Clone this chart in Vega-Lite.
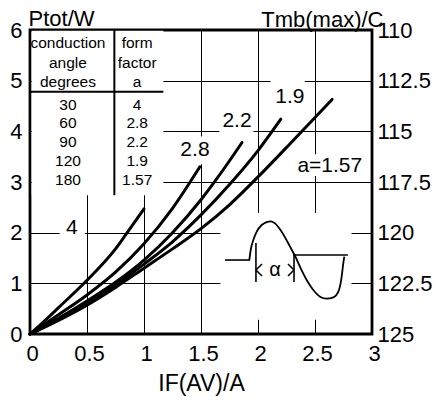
{
  "$schema": "https://vega.github.io/schema/vega-lite/v6.json",
  "width": 342,
  "height": 304,
  "autosize": {"type": "none"},
  "padding": {"left": 30, "top": 30, "right": 66, "bottom": 69},
  "background": "white",
  "config": {
    "font": "Liberation Sans",
    "view": {"stroke": "black", "strokeWidth": 2.8},
    "axis": {"labelColor": "black", "titleColor": "black", "labelFontSize": 22, "titleFontSize": 22, "titleFontWeight": "normal", "ticks": false, "domain": false, "gridColor": "black", "gridOpacity": 1, "gridWidth": 1, "labelFlush": false}
  },
  "datasets": {
    "curves": [
      {"a": "4", "x": 0, "y": 0}, {"a": "4", "x": 0.1, "y": 0.2}, {"a": "4", "x": 0.25, "y": 0.52}, {"a": "4", "x": 0.5, "y": 1.06}, {"a": "4", "x": 0.75, "y": 1.68}, {"a": "4", "x": 0.84, "y": 1.96}, {"a": "4", "x": 1.0, "y": 2.47},
      {"a": "2.8", "x": 0, "y": 0}, {"a": "2.8", "x": 0.25, "y": 0.38}, {"a": "2.8", "x": 0.5, "y": 0.77}, {"a": "2.8", "x": 0.75, "y": 1.22}, {"a": "2.8", "x": 1.0, "y": 1.78}, {"a": "2.8", "x": 1.25, "y": 2.48}, {"a": "2.8", "x": 1.49, "y": 3.3},
      {"a": "2.2", "x": 0, "y": 0}, {"a": "2.2", "x": 0.25, "y": 0.31}, {"a": "2.2", "x": 0.5, "y": 0.65}, {"a": "2.2", "x": 0.75, "y": 1.02}, {"a": "2.2", "x": 1.0, "y": 1.46}, {"a": "2.2", "x": 1.25, "y": 2.0}, {"a": "2.2", "x": 1.5, "y": 2.65}, {"a": "2.2", "x": 1.65, "y": 3.1}, {"a": "2.2", "x": 1.86, "y": 3.78},
      {"a": "1.9", "x": 0, "y": 0}, {"a": "1.9", "x": 0.25, "y": 0.29}, {"a": "1.9", "x": 0.5, "y": 0.61}, {"a": "1.9", "x": 0.75, "y": 0.97}, {"a": "1.9", "x": 1.0, "y": 1.38}, {"a": "1.9", "x": 1.25, "y": 1.82}, {"a": "1.9", "x": 1.5, "y": 2.35}, {"a": "1.9", "x": 1.75, "y": 2.95}, {"a": "1.9", "x": 2.0, "y": 3.62}, {"a": "1.9", "x": 2.2, "y": 4.24},
      {"a": "1.57", "x": 0, "y": 0}, {"a": "1.57", "x": 0.25, "y": 0.27}, {"a": "1.57", "x": 0.5, "y": 0.57}, {"a": "1.57", "x": 0.75, "y": 0.92}, {"a": "1.57", "x": 1.0, "y": 1.3}, {"a": "1.57", "x": 1.25, "y": 1.68}, {"a": "1.57", "x": 1.5, "y": 2.08}, {"a": "1.57", "x": 1.75, "y": 2.55}, {"a": "1.57", "x": 2.0, "y": 3.1}, {"a": "1.57", "x": 2.3, "y": 3.8}, {"a": "1.57", "x": 2.65, "y": 4.63}
    ],
    "masks": [
      {"x": 0.015, "x2": 1.17, "y": 2.74, "y2": 5.985},
      {"x": 0.26, "x2": 0.48, "y": 1.9, "y2": 2.3},
      {"x": 1.28, "x2": 1.6, "y": 3.35, "y2": 3.9},
      {"x": 1.66, "x2": 1.96, "y": 3.85, "y2": 4.37},
      {"x": 2.11, "x2": 2.41, "y": 4.45, "y2": 5.06},
      {"x": 2.25, "x2": 2.98, "y": 3.12, "y2": 3.55},
      {"x": 1.67, "x2": 2.82, "y": 0.28, "y2": 2.39}
    ],
    "segments": [
      {"part": "table", "x": 0, "y": 4.78, "x2": 1.17, "y2": 4.78},
      {"part": "table", "x": 0.74, "y": 2.74, "x2": 0.74, "y2": 6},
      {"part": "inset", "x": 1.711, "y": 1.46, "x2": 1.93, "y2": 1.46},
      {"part": "inset", "x": 2.307, "y": 1.56, "x2": 2.789, "y2": 1.56},
      {"part": "inset", "x": 1.982, "y": 1.796, "x2": 1.982, "y2": 1.026},
      {"part": "inset", "x": 2.316, "y": 1.56, "x2": 2.316, "y2": 1.026},
      {"part": "inset", "x": 2.035, "y": 1.381, "x2": 1.982, "y2": 1.263},
      {"part": "inset", "x": 1.982, "y": 1.263, "x2": 2.035, "y2": 1.145},
      {"part": "inset", "x": 2.263, "y": 1.381, "x2": 2.316, "y2": 1.263},
      {"part": "inset", "x": 2.316, "y": 1.263, "x2": 2.263, "y2": 1.145}
    ],
    "wave": [
      {"x": 1.924, "y": 1.46}, {"x": 1.936, "y": 1.658}, {"x": 1.959, "y": 1.855}, {"x": 1.989, "y": 2.02}, {"x": 2.032, "y": 2.151}, {"x": 2.076, "y": 2.21}, {"x": 2.111, "y": 2.224}, {"x": 2.149, "y": 2.184}, {"x": 2.193, "y": 2.066}, {"x": 2.237, "y": 1.908}, {"x": 2.281, "y": 1.724}, {"x": 2.325, "y": 1.54}, {"x": 2.368, "y": 1.329}, {"x": 2.427, "y": 1.066}, {"x": 2.485, "y": 0.868}, {"x": 2.544, "y": 0.736}, {"x": 2.602, "y": 0.697}, {"x": 2.661, "y": 0.724}, {"x": 2.705, "y": 0.836}, {"x": 2.734, "y": 1.132}, {"x": 2.748, "y": 1.395}, {"x": 2.757, "y": 1.527}
    ],
    "texts": [
      {"g": "table", "x": 0.333, "y": 5.74, "text": "conduction"},
      {"g": "table", "x": 0.333, "y": 5.35, "text": "angle"},
      {"g": "table", "x": 0.333, "y": 4.97, "text": "degrees"},
      {"g": "table", "x": 0.94, "y": 5.74, "text": "form"},
      {"g": "table", "x": 0.94, "y": 5.35, "text": "factor"},
      {"g": "table", "x": 0.94, "y": 4.97, "text": "a"},
      {"g": "table", "x": 0.333, "y": 4.52, "text": "30"},
      {"g": "table", "x": 0.333, "y": 4.16, "text": "60"},
      {"g": "table", "x": 0.333, "y": 3.79, "text": "90"},
      {"g": "table", "x": 0.333, "y": 3.41, "text": "120"},
      {"g": "table", "x": 0.333, "y": 3.04, "text": "180"},
      {"g": "table", "x": 0.94, "y": 4.52, "text": "4"},
      {"g": "table", "x": 0.94, "y": 4.16, "text": "2.8"},
      {"g": "table", "x": 0.94, "y": 3.79, "text": "2.2"},
      {"g": "table", "x": 0.94, "y": 3.41, "text": "1.9"},
      {"g": "table", "x": 0.94, "y": 3.04, "text": "1.57"},
      {"g": "curve", "x": 0.368, "y": 2.09, "text": "4"},
      {"g": "curve", "x": 1.447, "y": 3.63, "text": "2.8"},
      {"g": "curve", "x": 1.816, "y": 4.2, "text": "2.2"},
      {"g": "curve", "x": 2.28, "y": 4.68, "text": "1.9"},
      {"g": "curve", "x": 2.63, "y": 3.32, "text": "a=1.57"},
      {"g": "alpha", "x": 2.149, "y": 1.263, "text": "α"}
    ]
  },
  "layer": [
    {
      "encoding": {
        "x": {"field": "x", "type": "quantitative", "scale": {"domain": [0, 3], "nice": false, "zero": false},
              "axis": {"values": [0, 0.5, 1, 1.5, 2, 2.5, 3], "format": ".1~f", "grid": true, "labelPadding": 9, "labelOffset": 2, "title": "IF(AV)/A", "titleFontSize": 23, "titleY": 56, "titleBaseline": "alphabetic"}},
        "y": {"field": "y", "type": "quantitative", "scale": {"domain": [0, 6], "nice": false},
              "axis": {"values": [0, 1, 2, 3, 4, 5, 6], "format": ".1~f", "grid": true, "labelPadding": 8, "title": "Ptot/W", "titleAngle": 0, "titleAlign": "left", "titleX": -2, "titleY": -5, "titleBaseline": "alphabetic"}}
      },
      "layer": [
        {"data": {"name": "masks"}, "mark": {"type": "rect", "color": "white"},
         "encoding": {"x2": {"field": "x2"}, "y2": {"field": "y2"}}},
        {"data": {"name": "segments"}, "transform": [{"filter": "datum.part === 'table'"}],
         "mark": {"type": "rule", "color": "black", "strokeWidth": 2},
         "encoding": {"x2": {"field": "x2"}, "y2": {"field": "y2"}}},
        {"data": {"name": "segments"}, "transform": [{"filter": "datum.part === 'inset'"}],
         "mark": {"type": "rule", "color": "black", "strokeWidth": 1.6},
         "encoding": {"x2": {"field": "x2"}, "y2": {"field": "y2"}}},
        {"data": {"name": "wave"}, "mark": {"type": "line", "color": "black", "strokeWidth": 1.8, "interpolate": "monotone"}, "encoding": {}},
        {"data": {"name": "curves"}, "mark": {"type": "line", "color": "black", "strokeWidth": 3, "interpolate": "monotone", "strokeCap": "round"},
         "encoding": {"detail": {"field": "a"}}},
        {"data": {"name": "texts"}, "transform": [{"filter": "datum.g === 'table'"}],
         "mark": {"type": "text", "fontSize": 15.5, "color": "black", "align": "center", "baseline": "middle"},
         "encoding": {"text": {"field": "text"}}},
        {"data": {"name": "texts"}, "transform": [{"filter": "datum.g === 'curve'"}],
         "mark": {"type": "text", "fontSize": 21, "color": "black", "align": "center", "baseline": "middle"},
         "encoding": {"text": {"field": "text"}}},
        {"data": {"name": "texts"}, "transform": [{"filter": "datum.g === 'alpha'"}],
         "mark": {"type": "text", "fontSize": 20, "color": "black", "align": "center", "baseline": "middle"},
         "encoding": {"text": {"field": "text"}}}
      ]
    },
    {
      "data": {"values": [{"t": 110}, {"t": 125}]},
      "mark": {"type": "point", "opacity": 0},
      "encoding": {
        "y": {"field": "t", "type": "quantitative", "scale": {"domain": [110, 125], "reverse": true, "nice": false, "zero": false},
              "axis": {"orient": "right", "values": [110, 112.5, 115, 117.5, 120, 122.5, 125], "format": ".1~f", "grid": false, "labelPadding": 5, "title": "Tmb(max)/C", "titleAngle": 0, "titleAlign": "right", "titleX": 11, "titleY": -4, "titleBaseline": "alphabetic"}}
      }
    }
  ],
  "resolve": {"scale": {"y": "independent"}}
}
